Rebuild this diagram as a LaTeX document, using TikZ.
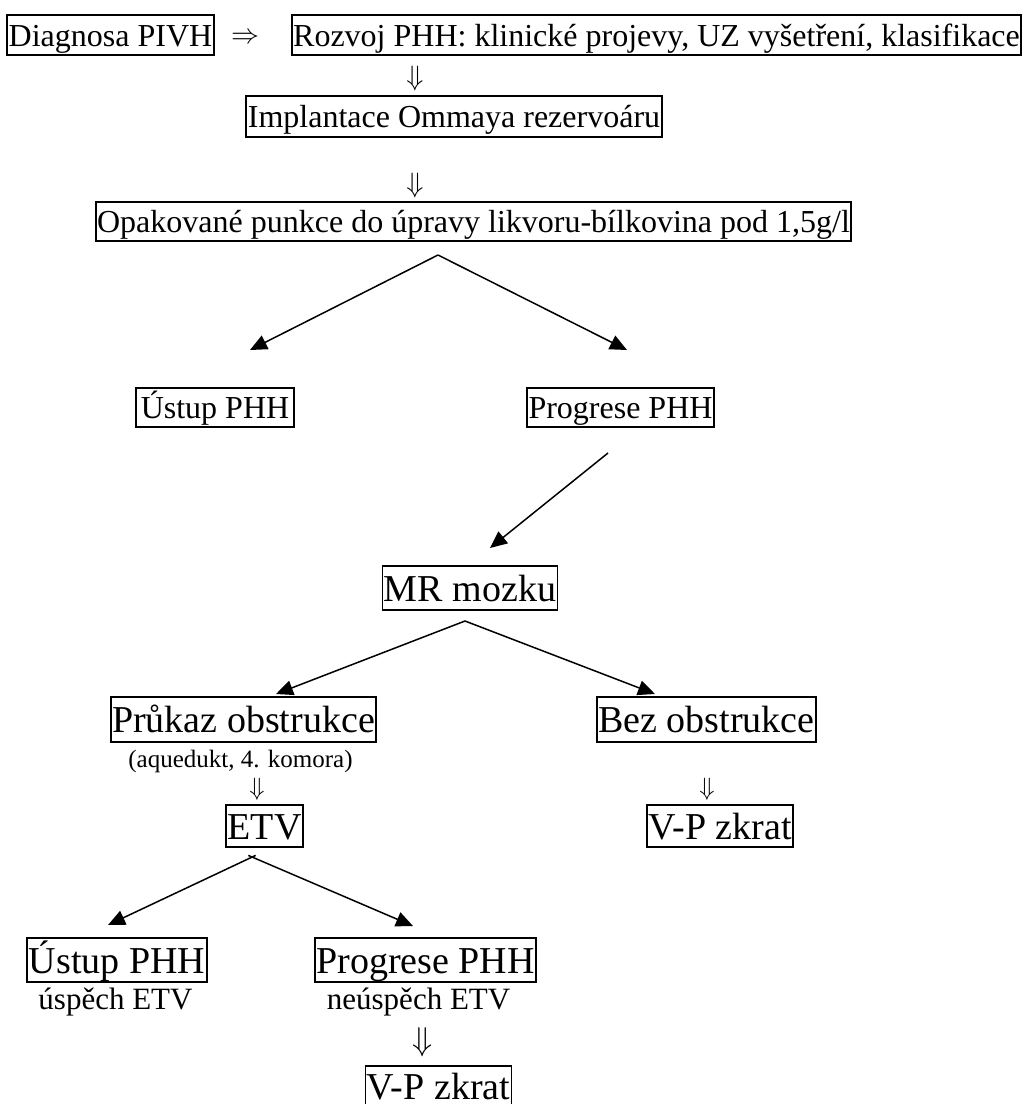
\documentclass[tikz,border=0pt]{standalone}
\usepackage{fontspec}
\setmainfont{Liberation Serif}
\usetikzlibrary{arrows.meta}
\tikzset{
  box/.style={draw, line width=1.8pt, inner xsep=1.5pt, inner ysep=0pt, anchor=center},
  fa/.style={font=\fontsize{32}{36}\selectfont, text height=28.8pt, text depth=6.4pt},
  fb/.style={font=\fontsize{38}{42}\selectfont, text height=34.2pt, text depth=7.6pt},
  note/.style={inner sep=0pt, anchor=center},
  con/.style={line width=1.5pt, -{Triangle[length=17pt,width=15pt]}},
}
\newcommand{\dnarr}[1]{\scalebox{#1}{$\Downarrow$}}
\begin{document}
\begin{tikzpicture}[x=1pt,y=-1pt]
\useasboundingbox (0,0) rectangle (1026,1104);
\fill[white] (0,0) rectangle (1026,1104);
\clip (0,0) rectangle (1026,1104);
% top section
\node[box,fa,minimum width=205,minimum height=40] (diag) at (110.5,35) {Diagnosa PIVH};
\node[note] (imp) at (245,38.5) {\scalebox{2.8}{$\Rightarrow$}};
\node[box,fa,minimum width=729,minimum height=40] (rozvoj) at (656.5,35) {Rozvoj PHH: klinické projevy, UZ vyšetření, klasifikace};
\node[note] (d1) at (415,78) {\dnarr{2.8}};
\node[box,fa,minimum width=412,minimum height=41] (impl) at (454,116.5) {Implantace Ommaya rezervoáru};
\node[note] (d2) at (415,185) {\dnarr{2.8}};
\node[box,fa,minimum width=753,minimum height=39] (opak) at (473.5,221.5) {Opakované punkce do úpravy likvoru-bílkovina pod 1,5g/l};
\coordinate (ap1) at (438,255);
\coordinate (tl1) at (250,350);
\coordinate (tr1) at (627,350);
\draw[con] (ap1) -- (tl1);
\draw[con] (ap1) -- (tr1);
\node[box,fa,minimum width=158,minimum height=39] (ust1) at (215,407.5) {Ústup PHH};
\node[box,fa,minimum width=185,minimum height=39] (prog1) at (620.5,407.5) {Progrese PHH};
\coordinate (s2) at (608,453);
\coordinate (t2) at (490,548);
\draw[con] (s2) -- (t2);
% middle section
\node[box,fb,minimum width=172,minimum height=44] (mr) at (470,588) {MR mozku};
\coordinate (ap2) at (465,621);
\coordinate (tl2) at (276,694);
\coordinate (tr2) at (655,694);
\draw[con] (ap2) -- (tl2);
\draw[con] (ap2) -- (tr2);
\node[box,fb,minimum width=261,minimum height=45] (pruk) at (243.5,719.5) {Průkaz obstrukce};
\node[box,fb,minimum width=215,minimum height=45] (bez) at (706.5,719.5) {Bez obstrukce};
\node[note,font=\fontsize{25}{27}\selectfont] (aq) at (240.5,761) {(aquedukt, 4. komora)};
\node[note] (d3) at (257,789) {\dnarr{2.5}};
\node[note] (d4) at (707,789) {\dnarr{2.5}};
\node[box,fb,minimum width=76,minimum height=40] (etv) at (264.5,826) {ETV};
\node[box,fb,minimum width=146,minimum height=40] (vp1) at (720,826) {V-P zkrat};
% bottom section
\coordinate (ap3a) at (255.6,855.4);
\coordinate (ap3b) at (248.3,855.4);
\coordinate (tl3) at (108,925);
\coordinate (tr3) at (413,926);
\draw[con] (ap3a) -- (tl3);
\draw[con] (ap3b) -- (tr3);
\node[box,fb,minimum width=174,minimum height=44] (ust2) at (117,960) {Ústup PHH};
\node[box,fb,minimum width=217,minimum height=44] (prog2) at (425.5,960) {Progrese PHH};
\node[note,font=\fontsize{31}{33}\selectfont] (usp) at (115.5,1002) {úspěch ETV};
\node[note,font=\fontsize{31}{33}\selectfont] (neusp) at (418.6,1002) {neúspěch ETV};
\node[note] (d5) at (423,1042) {\dnarr{3.3}};
\node[box,fb,text height=27pt,text depth=3pt,minimum width=145,minimum height=42] (vp2) at (438.5,1087) {V-P zkrat};
\end{tikzpicture}
\end{document}
